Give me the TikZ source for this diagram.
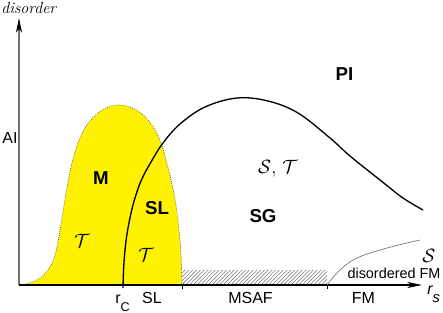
\documentclass[tikz,border=0pt]{standalone}
\usepackage{fontspec}
\newfontfamily\arial{Liberation Sans}
\usetikzlibrary{arrows.meta,patterns.meta}
\begin{document}
\begin{tikzpicture}[x=0.75pt,y=-0.75pt,
  lbl/.style={font=\arial\fontsize{12}{14}\selectfont, inner sep=0pt},
  small/.style={font=\arial\fontsize{10.8}{12}\selectfont, inner sep=0pt},
  big/.style={font=\arial\bfseries\fontsize{14}{16}\selectfont, inner sep=0pt},
  cal/.style={font=\fontsize{14}{16}\selectfont, inner sep=0pt},
  axistip/.style={-{Stealth[length=11pt,width=4.5pt,inset=3pt,black]}},
  region/.style={fill=yellow, draw=black!75, densely dotted, line width=0.5pt},
  hatch/.style={pattern={Lines[angle=45,distance=2pt,line width=0.4pt]}, pattern color=black!55},
  boundary/.style={line width=1pt, black},
  crossover/.style={line width=0.5pt, black!55},
  tickmark/.style={line width=0.6pt, black}
]
\useasboundingbox (0,0) rectangle (443,312);

% yellow metallic region
\fill[yellow] plot[smooth, tension=0.6] coordinates {(19,285) (30,283) (40,278) (48,270) (54,258) (58,242) (62,218) (66,193) (72,163) (80,138) (90,121) (104,109) (120,105) (138,111) (152,125) (161,143) (166,160) (171,180) (176,205) (179,230) (181,255) (182,285)} -- cycle;
\draw[draw=black!75, densely dotted, line width=0.5pt] plot[smooth, tension=0.6] coordinates {(19,285) (30,283) (40,278) (48,270) (54,258) (58,242) (62,218) (66,193) (72,163) (80,138) (90,121) (104,109) (120,105) (138,111) (152,125) (161,143) (166,160) (171,180) (176,205) (179,230) (181,255) (182,285)};

% hatched MSAF strip
\fill[hatch] (182,270) rectangle (327,285);

% axes
\coordinate (origin) at (19,285);
\coordinate (ytip) at (19,18);
\coordinate (xtip) at (422,285);
\draw[axistip, line width=0.8pt, black!55] (origin) -- (ytip);
\draw[axistip, line width=0.8pt] (origin) -- (xtip);

% ticks
\coordinate (t1a) at (182,285); \coordinate (t1b) at (182,289);
\coordinate (t2a) at (327,285); \coordinate (t2b) at (327,289);
\draw[tickmark] (t1a) -- (t1b);
\draw[tickmark] (t2a) -- (t2b);

% main boundary curve
\draw[boundary] plot[smooth, tension=0.6] coordinates {(123,288) (124,262) (127,234) (133,205) (141,181) (151,162) (163,143) (180,124) (205,107) (237,98) (268,101) (298,113) (330,138) (350,156) (380,180) (403,198) (423,210)};

% disordered FM crossover
\draw[crossover] plot[smooth, tension=0.6] coordinates {(327,285) (340,270) (357,258) (387,248) (420,240)};

% labels
\node[font=\itshape\fontsize{12}{14}\selectfont, inner sep=0pt, anchor=base west] (disorder) at (1,13) {disorder};
\node[lbl] (AI) at (10,138) {AI};
\node[big] (M) at (101,178.5) {M};
\node[big] (SLbold) at (157,208.5) {SL};
\node[cal] (T1) at (82,241) {$\mathcal{T}$};
\node[cal] (T2) at (146,255) {$\mathcal{T}$};
\node[cal] (ST) at (278,169) {$\mathcal{S}$, $\mathcal{T}$};
\node[big] (SG) at (263,216.5) {SG};
\node[big] (PI) at (344.5,74.5) {PI};
\node[cal] (S) at (429,256) {$\mathcal{S}$};
\node[small] (dFM) at (394,273) {disordered FM};
\node[lbl, anchor=base west] (rc) at (115,303) {r\raisebox{-6pt}{\fontsize{9.5}{10}\selectfont C}};
\node[lbl] (SL) at (152,297.5) {SL};
\node[lbl] (MSAF) at (250.5,297.5) {MSAF};
\node[lbl] (FM) at (363.5,297.5) {FM};
\node[lbl, anchor=base west] (rs) at (427,294) {\itshape r\raisebox{-6pt}{\fontsize{11}{12}\selectfont s}};
\end{tikzpicture}
\end{document}
